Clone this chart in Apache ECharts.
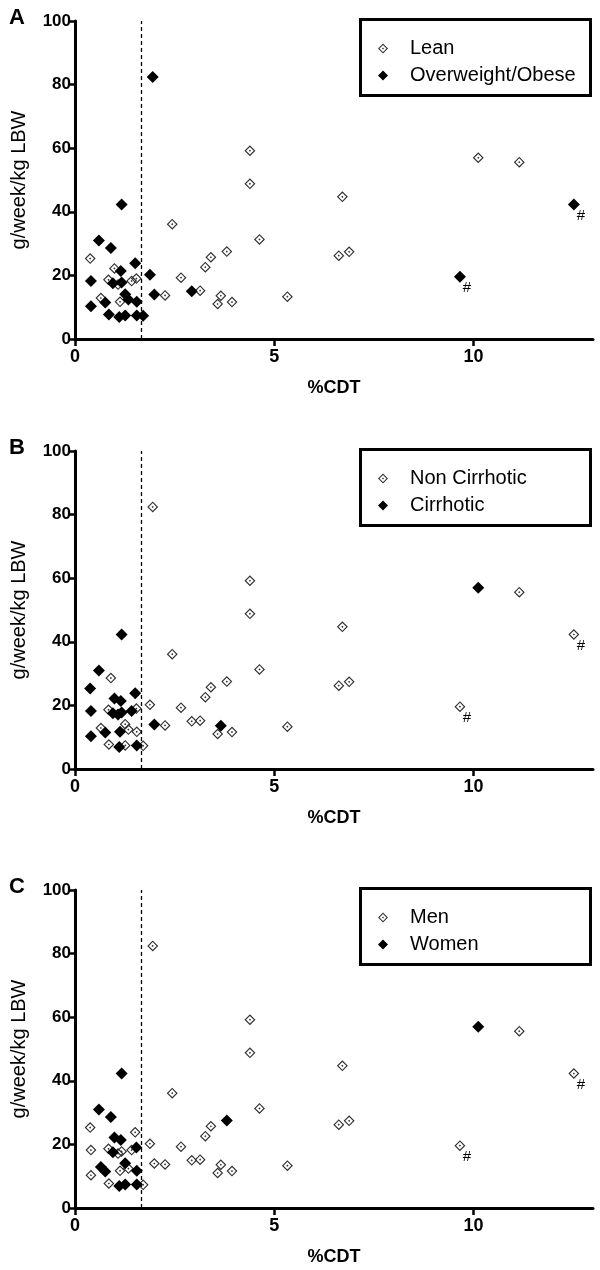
<!DOCTYPE html>
<html>
<head>
<meta charset="utf-8">
<script src="https://cdn.jsdelivr.net/npm/echarts@6/dist/echarts.min.js"></script>
<style>
  html, body { margin: 0; padding: 0; background: #fff; }
  #chart { width: 600px; height: 1270px; }
</style>
</head>
<body>
<div id="chart"></div>
<script>
// %CDT and alcohol intake of each patient (same people in all three panels)
var xVals = [10.12, 11.15, 12.52, 9.66, 6.71, 6.62, 6.88, 5.33, 4.39, 4.39,
             2.44, 4.63, 3.81, 3.41, 3.27, 2.66, 1.88, 1.51, 1.99, 2.26,
             2.93, 3.14, 3.66, 3.58, 3.94, 1.17, 0.60, 0.90, 0.38, 0.99,
             1.15, 0.40, 0.84, 0.95, 1.08, 1.17, 1.42, 1.54, 1.26, 1.34,
             0.65, 0.76, 1.13, 1.55, 0.40, 0.85, 1.11, 1.26, 1.55, 1.71,
             1.95];
var yVals = [57.0, 55.6, 42.3, 19.6, 44.7, 26.2, 27.4, 13.3, 59.2, 48.8,
             36.1, 31.3, 27.5, 25.7, 22.6, 19.3, 20.2, 23.8, 14.0, 13.7,
             15.0, 15.2, 13.6, 11.0, 11.6, 42.3, 31.0, 28.6, 25.3, 22.2,
             21.4, 18.2, 18.6, 17.5, 17.1, 17.8, 18.2, 19.0, 14.1, 12.4,
             12.9, 11.5, 11.7, 11.7, 10.3, 7.7, 6.9, 7.4, 7.4, 7.3,
             82.4];
// 1 = filled marker group
var overweight = [0,0,1,1,0,0,0,0,0,0, 0,0,0,0,0,0,1,1,1,0, 1,0,0,0,0,1,1,1,0,0,
                  1,1,0,1,0,1,0,0,1,1, 0,1,0,1,1,1,1,1,1,1, 1];
var cirrhotic  = [1,0,0,0,0,0,0,0,0,0, 0,0,0,0,0,0,0,1,1,0, 0,0,1,0,0,1,1,0,1,1,
                  1,1,0,1,1,1,1,0,0,0, 0,1,1,0,1,0,1,0,1,0, 0];
var women      = [1,0,0,0,0,0,0,0,0,0, 0,0,1,0,0,0,0,0,0,0, 0,0,0,0,0,1,1,1,0,1,
                  1,0,0,1,0,0,0,1,1,0, 1,1,0,1,0,0,1,1,1,0, 0];
// points marked with #
var flagged = [2, 3];

var panels = [
  { letter: 'A', names: ['Lean', 'Overweight/Obese'], group: overweight },
  { letter: 'B', names: ['Non Cirrhotic', 'Cirrhotic'], group: cirrhotic },
  { letter: 'C', names: ['Men', 'Women'], group: women }
];
var cutoff = 1.67;
var xTicks = [0, 5, 10];

var panelTop = [21, 451, 890];
var panelH = 318;
var font = 'Arial, "Liberation Sans", sans-serif';

// open diamond with a dot in the middle
var openDiamond = 'path://M10 0L20 10L10 20L0 10Z M10 3L3 10L10 17L17 10Z M10 8L12 10L10 12L8 10Z';

var chart = echarts.init(document.getElementById('chart'));

var grids = [], xAxes = [], yAxes = [], series = [], legends = [], titles = [], graphics = [];

panels.forEach(function (p, i) {
  var top = panelTop[i];
  grids.push({ left: 75, top: top, width: 518, height: panelH });
  xAxes.push({
    gridIndex: i, type: 'value', min: 0, max: 13,
    name: '%CDT', nameLocation: 'middle', nameGap: 40,
    nameTextStyle: { fontFamily: font, fontWeight: 'bold', fontSize: 18, color: '#000' },
    axisLine: { lineStyle: { color: '#000', width: 3 } },
    axisTick: { show: true, length: 7, customValues: xTicks, lineStyle: { color: '#000', width: 2.5 } },
    axisLabel: { customValues: xTicks, margin: 9, fontFamily: font, fontWeight: 'bold', fontSize: 18, color: '#000' },
    splitLine: { show: false }
  });
  yAxes.push({
    gridIndex: i, type: 'value', min: 0, max: 100, interval: 20,
    name: 'g/week/kg LBW', nameLocation: 'middle', nameGap: 46,
    nameTextStyle: { fontFamily: font, fontSize: 20, color: '#000' },
    axisLine: { show: true, lineStyle: { color: '#000', width: 3 } },
    axisTick: { show: true, length: 7, lineStyle: { color: '#000', width: 2.5 } },
    axisLabel: { margin: 4, fontFamily: font, fontWeight: 'bold', fontSize: 17, color: '#000' },
    splitLine: { show: false }
  });

  var openPts = [], fillPts = [];
  xVals.forEach(function (x, k) {
    var item = { value: [x, yVals[k]] };
    if (flagged.indexOf(k) >= 0) {
      item.label = {
        show: true, formatter: '#', position: 'inside', offset: [7, 11],
        fontFamily: font, fontSize: 15, color: '#000'
      };
    }
    if (p.group[k]) fillPts.push(item); else openPts.push(item);
  });

  series.push({
    name: p.names[0], type: 'scatter', xAxisIndex: i, yAxisIndex: i,
    symbol: openDiamond, symbolSize: 11,
    itemStyle: { color: '#333', opacity: 1 },
    data: openPts,
    markLine: {
      silent: true, symbol: 'none',
      label: { show: false },
      lineStyle: { color: '#000', type: [4, 3], width: 1.3 },
      data: [{ xAxis: cutoff }]
    }
  });
  series.push({
    name: p.names[1], type: 'scatter', xAxisIndex: i, yAxisIndex: i,
    symbol: 'diamond', symbolSize: 12,
    itemStyle: { color: '#000', opacity: 1 },
    data: fillPts
  });

  legends.push({
    orient: 'vertical', left: 373, top: top + 9,
    itemWidth: 10, itemHeight: 10, itemGap: 0,
    data: [{ name: p.names[0], icon: openDiamond }, { name: p.names[1], icon: 'diamond' }],
    textStyle: { fontFamily: font, fontSize: 20, color: '#000', lineHeight: 27, padding: [0, 0, 0, 17] },
    selectedMode: false
  });

  titles.push({
    text: p.letter, left: 4, top: top - 19,
    textStyle: { fontFamily: font, fontWeight: 'bold', fontSize: 22, color: '#000' }
  });

  graphics.push({
    type: 'rect', left: 358, top: top - 4,
    shape: { width: 230, height: 76 },
    style: { fill: 'none', stroke: '#000', lineWidth: 3 }
  });
});

chart.setOption({
  animation: false,
  backgroundColor: '#fff',
  title: titles,
  grid: grids,
  xAxis: xAxes,
  yAxis: yAxes,
  legend: legends,
  graphic: graphics,
  series: series
});
</script>
</body>
</html>
